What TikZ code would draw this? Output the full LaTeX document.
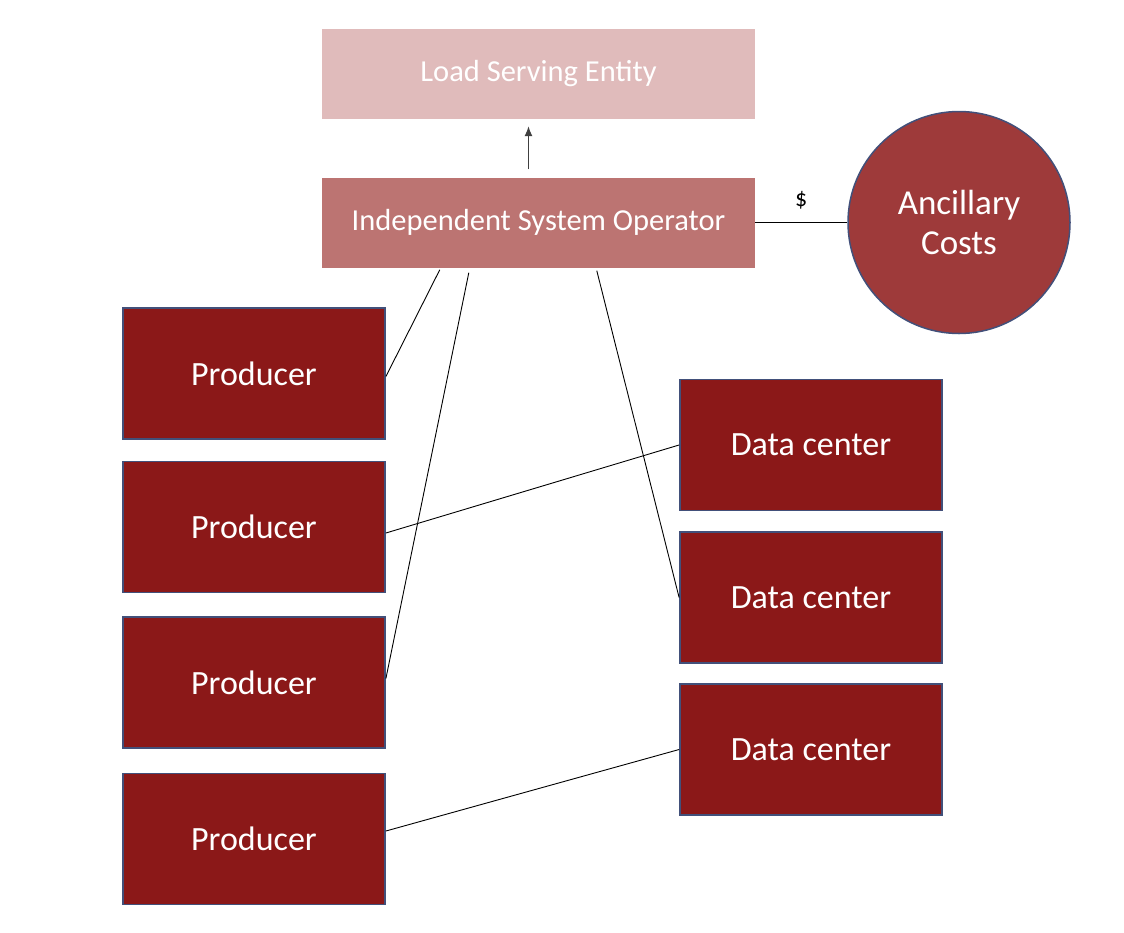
\documentclass[tikz,border=0pt]{standalone}
\usepackage{fontspec}
\setmainfont{Carlito}
\usepackage{tikz}
\usetikzlibrary{arrows.meta}
\usepackage{xcolor}
\definecolor{lsecol}{HTML}{E0BBBB}
\definecolor{isocol}{HTML}{BC7472}
\definecolor{anccol}{HTML}{9E3A3A}
\definecolor{boxcol}{HTML}{8B1818}
\definecolor{edgecol}{HTML}{42507A}

\begin{document}
\begin{tikzpicture}[x=1pt,y=-1pt,>={Latex[length=10pt,width=8pt]},
        topbox/.style={minimum width=433pt,minimum height=90pt,text=white,font=\fontsize{30.5}{36}\selectfont},
        unit/.style={draw=edgecol,line width=1.8pt,fill=boxcol,minimum width=262pt,minimum height=131pt,text=white,font=\fontsize{34}{40}\selectfont},
        link/.style={line width=0.9pt}]
        % background
        \useasboundingbox (0,0) rectangle (1124,932);
        \node[topbox,fill=lsecol] (lse) at (538.5,74) {Load Serving Entity};
        \node[topbox,fill=isocol] (iso) at (538.5,222.5) {Independent System Operator};
        \node[circle,draw=edgecol,line width=1.5pt,fill=anccol,minimum size=222pt,text=white,align=center,
              font=\fontsize{35}{40}\selectfont] (anc) at (959,222.5) {Ancillary\\Costs};
        \foreach \n/\y in {1/373.5,2/527,3/682.5,4/839}
                \node[unit] (prod\n) at (254,\y) {Producer};
        \foreach \n/\y in {1/445,2/597.5,3/749.5}
                \node[unit] (dc\n) at (811,\y) {Data center};
        % links
        \draw[->,line width=1.2pt,black!75] ([xshift=-10pt,yshift=8pt]iso.north) -- ([xshift=-10pt,yshift=-7pt]lse.south);
        \draw[link] (iso.east) -- (anc.west) node[midway,above=10pt,font=\fontsize{24}{28}\selectfont] {\$};
        \draw[link] ([xshift=118pt,yshift=-2pt]iso.south west) -- ([yshift=-3pt]prod1.east);
        \draw[link] ([xshift=147pt,yshift=-5pt]iso.south west) -- ([yshift=4pt]prod3.east);
        \draw[link] ([xshift=275pt,yshift=-3pt]iso.south west) -- (dc2.west);
        \draw[link] ([yshift=-6pt]prod2.east) -- (dc1.west);
        \draw[link] ([yshift=8pt]prod4.east) -- (dc3.west);
      \end{tikzpicture}
\end{document}
